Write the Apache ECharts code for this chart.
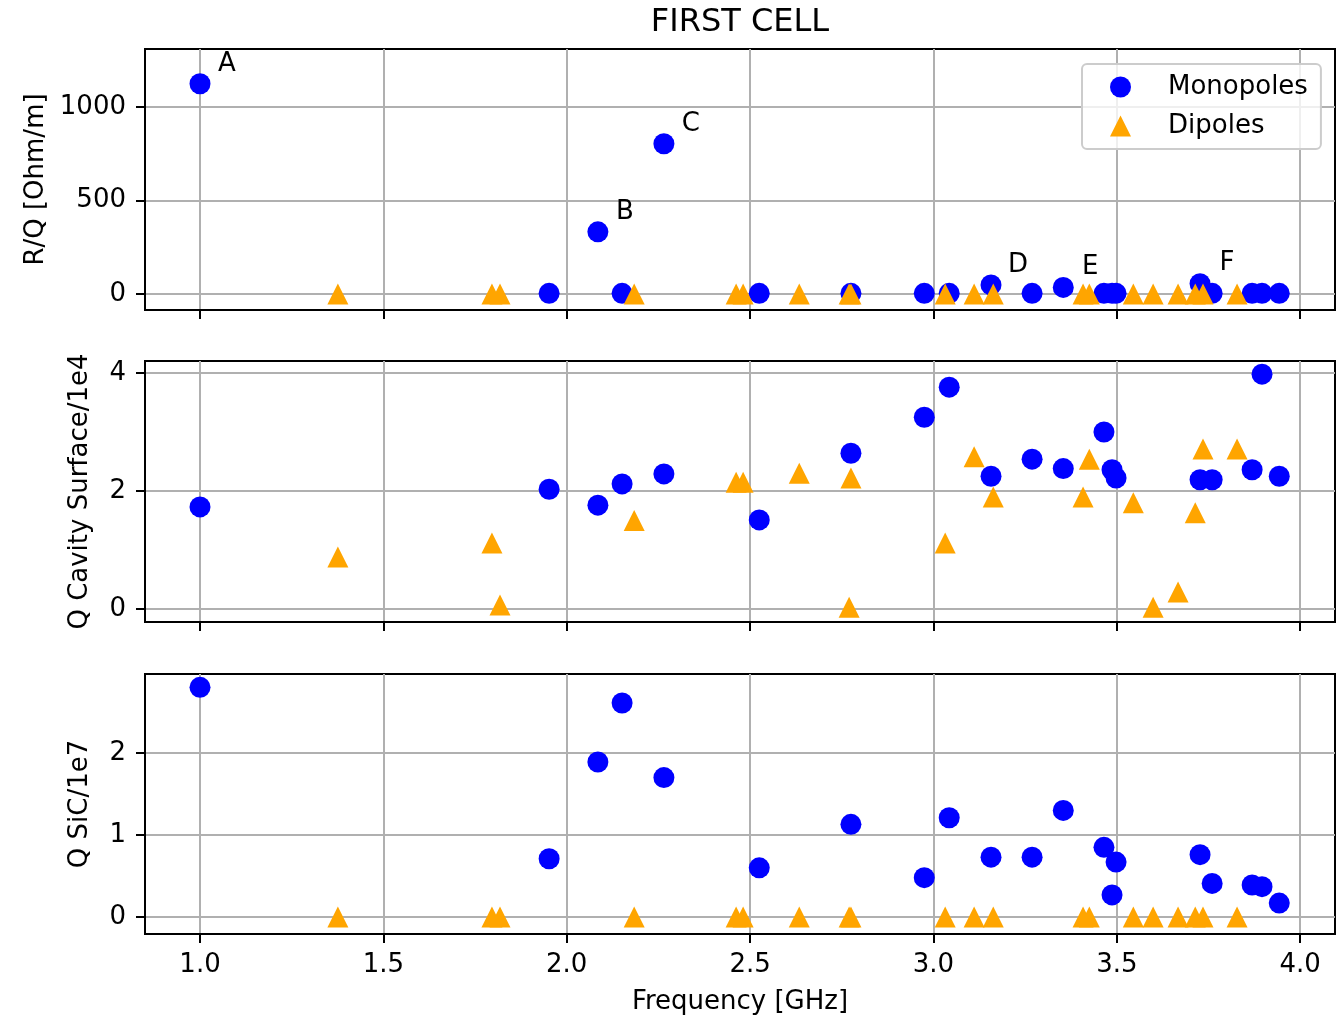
<!DOCTYPE html>
<html>
<head>
<meta charset="utf-8">
<title>FIRST CELL</title>
<script src="https://cdn.jsdelivr.net/npm/echarts@6/dist/echarts.min.js"></script>
<style>
  html, body { margin: 0; padding: 0; background: #fff; }
  #chart { width: 1338px; height: 1018px; }
</style>
</head>
<body>
<div id="chart"></div>
<script>
// monopole modes
const monoFreq = [1.0, 1.952, 2.085, 2.151, 2.265, 2.525, 2.775, 2.975, 3.043, 3.157,
  3.269, 3.354, 3.465, 3.487, 3.498, 3.727, 3.760, 3.869, 3.896, 3.943];
const monoRQ = [1124, 3, 332, 3, 803, 3, 3, 3, 3, 48,
  3, 35, 3, 3, 3, 55, 3, 3, 3, 3];
const monoQCav = [1.73, 2.03, 1.76, 2.12, 2.29, 1.51, 2.64, 3.25, 3.76, 2.25,
  2.54, 2.38, 3.0, 2.36, 2.22, 2.19, 2.19, 2.36, 3.98, 2.25];
const monoQSiC = [2.80, 0.71, 1.89, 2.61, 1.70, 0.60, 1.13, 0.48, 1.21, 0.73,
  0.73, 1.30, 0.85, 0.27, 0.67, 0.76, 0.41, 0.39, 0.37, 0.17];

// dipole modes
const dipFreq = [1.376, 1.796, 1.818, 2.184, 2.462, 2.481, 2.634, 2.770, 2.775, 3.032,
  3.111, 3.163, 3.408, 3.425, 3.545, 3.599, 3.667, 3.714, 3.735, 3.828];
const dipRQ = [0, 0, 0, 0, 0, 0, 0, 0, 0, 0,
  0, 0, 0, 0, 0, 0, 0, 0, 0, 0];
const dipQCav = [0.88, 1.12, 0.07, 1.50, 2.15, 2.15, 2.30, 0.03, 2.22, 1.12,
  2.58, 1.90, 1.90, 2.54, 1.80, 0.03, 0.29, 1.63, 2.71, 2.71];
const dipQSiC = [0, 0, 0, 0, 0, 0, 0, 0, 0, 0,
  0, 0, 0, 0, 0, 0, 0, 0, 0, 0];

// annotated monopoles
const noteIndex = [0, 2, 4, 9, 11, 15];
const noteText = ["A", "B", "C", "D", "E", "F"];

// tick labels
const xTicks = [1.0, 1.5, 2.0, 2.5, 3.0, 3.5, 4.0];
const rqTicks = [0, 500, 1000];
const qCavTicks = [0, 2, 4];
const qSiCTicks = [0, 1, 2];

const font = "DejaVu Sans";
const blue = "#0000ff";
const orange = "#ffa500";

const chart = echarts.init(document.getElementById("chart"));

function pts(xs, ys) {
  return xs.map((x, i) => [x, ys[i]]);
}

function xAxisFor(gridIndex, showLabels) {
  return {
    type: "value",
    gridIndex,
    min: 0.85,
    max: 4.095,
    axisLine: { show: true, onZero: false, lineStyle: { color: "#000", width: 2 } },
    axisTick: { show: true, length: 9, customValues: xTicks, lineStyle: { color: "#000", width: 2 } },
    axisLabel: {
      show: showLabels,
      customValues: xTicks,
      margin: 18,
      color: "#000",
      fontSize: 26,
      fontFamily: font,
      formatter: (v) => v.toFixed(1),
    },
    splitLine: { show: true, lineStyle: { color: "#b0b0b0", width: 2 } },
    name: showLabels ? "Frequency [GHz]" : "",
    nameLocation: "middle",
    nameGap: 55,
    nameTextStyle: { color: "#000", fontSize: 26, fontFamily: font },
  };
}

function yAxisFor(gridIndex, min, max, ticks, name, gap) {
  return {
    type: "value",
    gridIndex,
    min,
    max,
    axisLine: { show: true, onZero: false, lineStyle: { color: "#000", width: 2 } },
    axisTick: { show: true, length: 9, customValues: ticks, lineStyle: { color: "#000", width: 2 } },
    axisLabel: {
      customValues: ticks,
      margin: 19,
      color: "#000",
      fontSize: 26,
      fontFamily: font,
      formatter: (v) => String(v),
    },
    splitLine: { show: true, lineStyle: { color: "#b0b0b0", width: 2 } },
    name,
    nameLocation: "middle",
    nameGap: gap,
    nameTextStyle: { color: "#000", fontSize: 26, fontFamily: font },
  };
}

function scatter(name, i, data, symbol, color) {
  return {
    name,
    type: "scatter",
    xAxisIndex: i,
    yAxisIndex: i,
    symbol,
    symbolSize: 21,
    itemStyle: { color, opacity: 1 },
    data,
  };
}

const monoTop = monoFreq.map((x, i) => {
  const k = noteIndex.indexOf(i);
  const item = { value: [x, monoRQ[i]] };
  if (k >= 0) item.label = { show: true, formatter: noteText[k] };
  return item;
});

const gridBox = { show: true, left: 145, width: 1190, borderColor: "#000", borderWidth: 2 };

chart.setOption({
  animation: false,
  textStyle: { fontFamily: font },
  title: {
    text: "FIRST CELL",
    left: 740,
    top: 7,
    padding: 0,
    textAlign: "center",
    textStyle: { color: "#000", fontSize: 32, fontWeight: "normal", fontFamily: font },
  },
  legend: {
    orient: "vertical",
    left: 1082,
    top: 64,
    padding: [10, 13, 10, 28],
    itemWidth: 21,
    itemHeight: 21,
    itemGap: 13,
    backgroundColor: "rgba(255,255,255,0.8)",
    borderColor: "#cccccc",
    borderWidth: 2,
    borderRadius: 5,
    textStyle: { color: "#000", fontSize: 26, fontFamily: font, padding: [0, 0, 0, 32] },
    data: [
      { name: "Monopoles", icon: "circle" },
      { name: "Dipoles", icon: "triangle" },
    ],
  },
  grid: [
    Object.assign({ top: 49, height: 261 }, gridBox),
    Object.assign({ top: 361, height: 261 }, gridBox),
    Object.assign({ top: 674, height: 260 }, gridBox),
  ],
  xAxis: [xAxisFor(0, false), xAxisFor(1, false), xAxisFor(2, true)],
  yAxis: [
    yAxisFor(0, -86, 1310, rqTicks, "R/Q [Ohm/m]", 95),
    yAxisFor(1, -0.22, 4.203, qCavTicks, "Q Cavity Surface/1e4", 52),
    yAxisFor(2, -0.207, 2.963, qSiCTicks, "Q SiC/1e7", 52),
  ],
  series: [
    Object.assign(scatter("Monopoles", 0, monoTop, "circle", blue), {
      label: {
        show: false,
        position: "inside",
        offset: [27, -20],
        color: "#000",
        fontSize: 26,
        fontFamily: font,
      },
    }),
    scatter("Dipoles", 0, pts(dipFreq, dipRQ), "triangle", orange),
    scatter("Monopoles", 1, pts(monoFreq, monoQCav), "circle", blue),
    scatter("Dipoles", 1, pts(dipFreq, dipQCav), "triangle", orange),
    scatter("Monopoles", 2, pts(monoFreq, monoQSiC), "circle", blue),
    scatter("Dipoles", 2, pts(dipFreq, dipQSiC), "triangle", orange),
  ],
});
</script>
</body>
</html>
